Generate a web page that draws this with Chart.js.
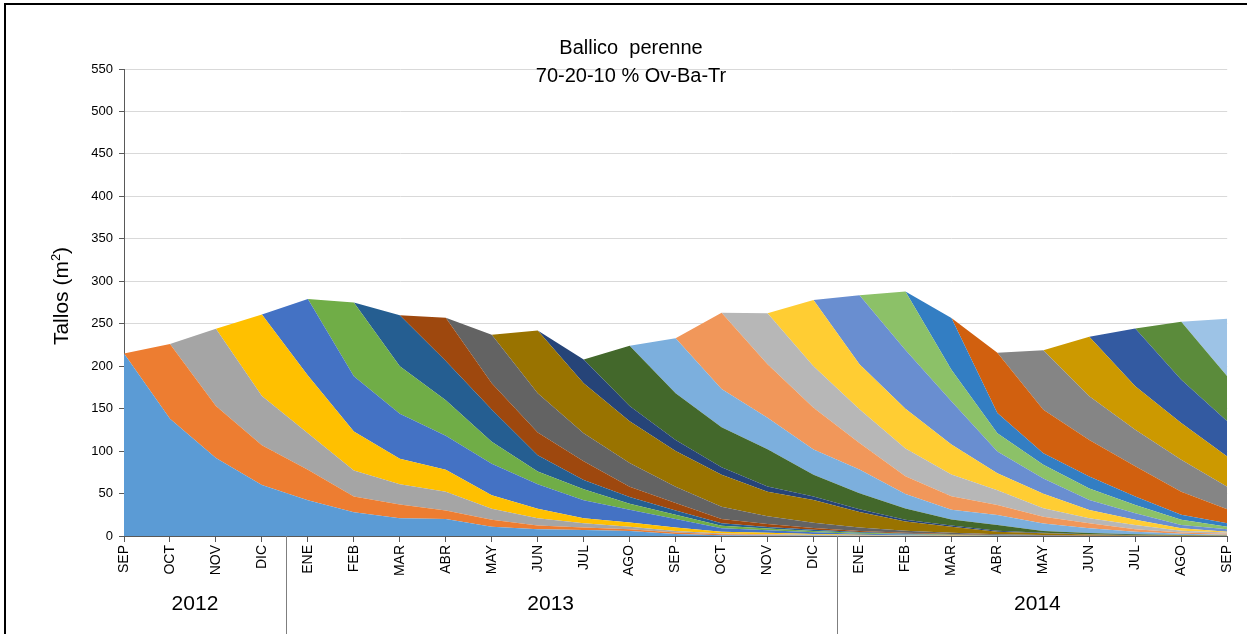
<!DOCTYPE html>
<html>
<head>
<meta charset="utf-8">
<script src="https://cdn.jsdelivr.net/npm/chart.js@4"></script>
<style>
  html, body { margin: 0; padding: 0; background: #fff; }
  #wrap { width: 1247px; height: 634px; }
</style>
</head>
<body>
<div id="wrap"><canvas id="chart" width="1247" height="634"></canvas></div>
<script>
const months = ['SEP','OCT','NOV','DIC','ENE','FEB','MAR','ABR','MAY','JUN','JUL','AGO',
                'SEP','OCT','NOV','DIC','ENE','FEB','MAR','ABR','MAY','JUN','JUL','AGO','SEP'];
const years = [
  { label: '2012', from: 0, to: 3, shift: 2 },
  { label: '2013', from: 4, to: 15, shift: -10 },
  { label: '2014', from: 16, to: 24, shift: -6 }
];

// tallos por cohorte (cada mes entra una nueva camada)
const sep12 = [215,138,92,60,42,28,21,20,11,8,7,6,2.5,1,0.7,0.5,0.3,0.2,0.1,0,0,0,0,0,0];
const oct12 = [0,88,61,47,36,18.5,16,10,8,4.5,3,2,1.5,1,0.7,0.5,0.3,0.2,0.1,0,0,0,0,0,0];
const nov12 = [0,0,91,58,43,30.5,24,22,13,8.5,5,3,2,1,0.8,0.5,0.3,0.2,0.1,0,0,0,0,0,0];
const dic12 = [0,0,0,96,68,46,30,26,16,11,6,5,4,2,1.5,1,0.6,0.4,0.2,0.1,0,0,0,0,0];
const ene13 = [0,0,0,0,90,65,53,40,37,29,21,15,10,4,3,2,1.2,0.8,0.5,0.3,0.2,0.1,0,0,0];
const feb13 = [0,0,0,0,0,87,56,42,26,15,13,7,5,3,2,1.5,1,0.6,0.4,0.2,0.1,0,0,0,0];
const mar13 = [0,0,0,0,0,0,60,46,38,19,11,8,5,3,2,1.5,1,0.6,0.4,0.2,0.1,0,0,0,0];
const abr13 = [0,0,0,0,0,0,0,51,31,27,22,12,9,5,3.5,2,1.2,0.8,0.5,0.3,0.2,0.1,0,0,0];
const may13 = [0,0,0,0,0,0,0,0,57,46,33,28,19,14.5,9,6,4,2.5,1.5,1,0.6,0.3,0.2,0,0];
const jun13 = [0,0,0,0,0,0,0,0,0,74,59,49,42,37.5,29,27,18.5,10.7,7,3,2,1.2,0.8,0.5,0.3];
const jul13 = [0,0,0,0,0,0,0,0,0,0,28,18,13,9,6,4,3,2,1.5,1,0.6,0.4,0.2,0.1,0];
const ago13 = [0,0,0,0,0,0,0,0,0,0,0,71,55,47,44,25.5,19,13.5,7,7,2,1.5,1,0.5,0.3];
const sep13 = [0,0,0,0,0,0,0,0,0,0,0,0,65,45,37,30,28,17,11.5,11.5,9,5.4,2.8,1.5,1];
const oct13 = [0,0,0,0,0,0,0,0,0,0,0,0,0,90,63,49,31,21,16,12,8,6,2.9,1.5,1];
const nov13 = [0,0,0,0,0,0,0,0,0,0,0,0,0,0,60,49,40,32.5,25.5,17.4,10,6,5.1,2,1.4];
const dic13 = [0,0,0,0,0,0,0,0,0,0,0,0,0,0,0,78,53,47,35.5,20,17,9.7,6,2.9,1];
const ene14 = [0,0,0,0,0,0,0,0,0,0,0,0,0,0,0,0,81,69,51,25.6,18,11.8,7.8,4,3];
const feb14 = [0,0,0,0,0,0,0,0,0,0,0,0,0,0,0,0,0,69,37,21.4,16,13.5,9.8,6,3];
const mar14 = [0,0,0,0,0,0,0,0,0,0,0,0,0,0,0,0,0,0,61,24,13.6,14,9.9,6,4];
const abr14 = [0,0,0,0,0,0,0,0,0,0,0,0,0,0,0,0,0,0,0,70.7,51.4,43,35.5,27,16.5];
const may14 = [0,0,0,0,0,0,0,0,0,0,0,0,0,0,0,0,0,0,0,0,70,51.6,43,37.8,26.5];
const jun14 = [0,0,0,0,0,0,0,0,0,0,0,0,0,0,0,0,0,0,0,0,0,70,51.4,43.2,35.7];
const jul14 = [0,0,0,0,0,0,0,0,0,0,0,0,0,0,0,0,0,0,0,0,0,0,68.1,51,41.3];
const ago14 = [0,0,0,0,0,0,0,0,0,0,0,0,0,0,0,0,0,0,0,0,0,0,0,68.4,53];
const sep14 = [0,0,0,0,0,0,0,0,0,0,0,0,0,0,0,0,0,0,0,0,0,0,0,0,68];

const cohorts = [sep12, oct12, nov12, dic12, ene13, feb13, mar13, abr13, may13, jun13, jul13, ago13,
                 sep13, oct13, nov13, dic13, ene14, feb14, mar14, abr14, may14, jun14, jul14, ago14, sep14];

const colors = ['#5B9BD5','#ED7D31','#A5A5A5','#FFC000','#4472C4','#70AD47',
                '#255E91','#9E480E','#636363','#997300','#264478','#43682B',
                '#7CAFDD','#F1975A','#B7B7B7','#FFCD33','#698ED0','#8CC168',
                '#337EC3','#D1600F','#858585','#CC9900','#335AA1','#5B8B3B','#9DC3E6'];

const FONT = '"Liberation Sans", Arial, sans-serif';

const datasets = cohorts.map((vals, i) => ({
  label: 'c' + (i + 1),
  data: vals,
  backgroundColor: colors[i],
  borderColor: colors[i],
  borderWidth: 0,
  pointRadius: 0,
  tension: 0,
  fill: i === 0 ? 'origin' : '-1'
}));

const decor = {
  id: 'decor',
  afterDraw(chart) {
    const c = chart.ctx;
    const xs = chart.scales.x;
    const area = chart.chartArea;
    c.save();

    // titulo
    c.fillStyle = '#000';
    c.textAlign = 'center';
    c.textBaseline = 'middle';
    c.font = '20px ' + FONT;
    c.fillText('Ballico  perenne', 631, 48);
    c.fillText('70-20-10 % Ov-Ba-Tr', 631, 76);

    // titulo eje y, con superindice
    c.save();
    c.translate(62, 296);
    c.rotate(-Math.PI / 2);
    c.textAlign = 'left';
    c.font = '21px ' + FONT;
    const a = 'Tallos (m', b = ')';
    const wa = c.measureText(a).width, wb = c.measureText(b).width;
    c.font = '13px ' + FONT;
    const ws = c.measureText('2').width;
    let x = -(wa + ws + wb) / 2;
    c.font = '21px ' + FONT;
    c.fillText(a, x, 0);
    c.font = '13px ' + FONT;
    c.fillText('2', x + wa, -6);
    c.font = '21px ' + FONT;
    c.fillText(b, x + wa + ws, 0);
    c.restore();

    // años y separadores
    c.font = '21px ' + FONT;
    years.forEach((y, i) => {
      const x0 = xs.getPixelForValue(y.from);
      const x1 = xs.getPixelForValue(y.to);
      c.fillText(y.label, (x0 + x1) / 2 + y.shift, 604);
      if (i > 0) {
        const sx = Math.round((xs.getPixelForValue(y.from - 1) + x0) / 2) + 1.5;
        c.strokeStyle = '#7f7f7f';
        c.lineWidth = 1;
        c.beginPath();
        c.moveTo(sx, area.bottom);
        c.lineTo(sx, 634);
        c.stroke();
      }
    });

    // marco
    c.strokeStyle = '#000';
    c.lineWidth = 2;
    c.beginPath();
    c.moveTo(5, 634);
    c.lineTo(5, 4);
    c.lineTo(1247, 4);
    c.stroke();
    c.restore();
  }
};

new Chart(document.getElementById('chart'), {
  type: 'line',
  data: { labels: months, datasets: datasets },
  options: {
    responsive: false,
    animation: false,
    devicePixelRatio: 1,
    layout: { padding: { top: 69, right: 19, left: 0, bottom: 0 } },
    plugins: { legend: { display: false }, tooltip: { enabled: false }, title: { display: false } },
    scales: {
      x: {
        offset: false,
        grid: { drawOnChartArea: false, drawTicks: true, tickLength: 6, color: '#595959' },
        border: { color: '#595959', width: 1 },
        ticks: { autoSkip: false, minRotation: 90, maxRotation: 90, padding: 3, color: '#000', font: { family: FONT, size: 14 } },
        afterFit(s) { s.height = 98; }
      },
      y: {
        stacked: true,
        min: 0,
        max: 550,
        grid: { color: '#d9d9d9', tickColor: '#595959', tickLength: 5 },
        border: { color: '#595959', width: 1 },
        ticks: { stepSize: 50, padding: 6, color: '#000', font: { family: FONT, size: 13 } },
        afterFit(s) { s.width = 124; }
      }
    }
  },
  plugins: [decor]
});
</script>
</body>
</html>
